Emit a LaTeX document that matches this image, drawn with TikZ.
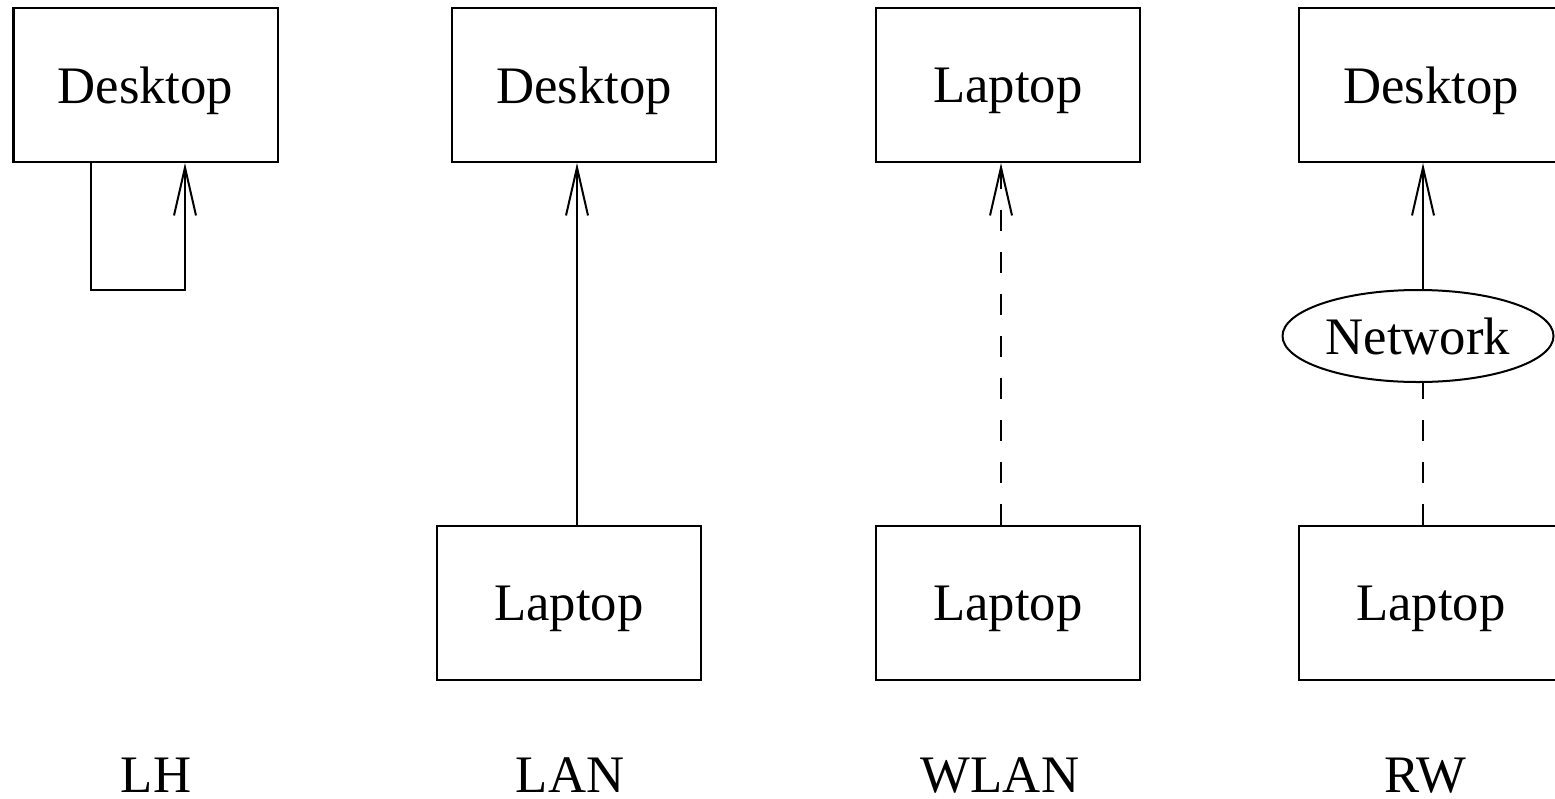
\documentclass[tikz,border=0pt]{standalone}
\usepackage{fontspec}
\setmainfont{Liberation Serif}
\usetikzlibrary{arrows.meta,shapes.geometric}

\begin{document}
\begin{tikzpicture}[font=\fontsize{30}{35}\selectfont, line width=1.14pt]
        % Style
        \tikzset{
            host/.style={draw, rectangle, inner sep=0pt, text depth=0pt, minimum width=5.28cm, minimum height=3.08cm},
            cloud/.style={draw, ellipse, inner sep=0pt, text depth=0pt, minimum width=5.42cm, minimum height=1.84cm},
            link/.style={-{Straight Barb[length=0.96cm, width=0.44cm]}},
            radio/.style={dash pattern=on 0.42cm off 0.42cm}
        }
        \useasboundingbox (0,0) rectangle (31.1,-15.96);

        % Komputery
        \node[host] (dtA) at (2.91, -1.70) {Desktop};
        \node[host] (dtB) at (11.68, -1.70) {Desktop};
        \node[host] (lpCt) at (20.16, -1.70) {Laptop};
        \node[host] (dtD) at (28.62, -1.70) {Desktop};

        \node[host] (lpB) at (11.38, -12.06) {Laptop};
        \node[host] (lpCb) at (20.16, -12.06) {Laptop};
        \node[host] (lpD) at (28.62, -12.06) {Laptop};

        \node[cloud] (net) at (28.36, -6.72) {Network};

        % Podpisy
        \foreach \x/\txt [count=\i] in {3.12/LH, 11.40/LAN, 20.00/WLAN, 28.50/RW}
            \node[anchor=base, inner sep=0pt] (cap\i) at (\x, -15.84) {\txt};

        % Polaczenia
        \draw[link] ([xshift=-1.09cm]dtA.south) -- ++(0,-2.54) -| ([xshift=0.79cm]dtA.south);
        \draw[link] ([xshift=0.16cm]lpB.north) -- ([xshift=0.16cm]lpB.north |- dtB.south);
        \draw[link, radio] ([xshift=-0.14cm]lpCb.north) -- ([xshift=-0.14cm]lpCb.north |- lpCt.south);
        \draw[radio] ([xshift=-0.16cm]lpD.north) -- ([xshift=-0.16cm]lpD.north |- net.south);
        \draw[link] ([xshift=-0.16cm]lpD.north |- net.north) -- ([xshift=-0.16cm]lpD.north |- dtD.south);
    \end{tikzpicture}
\end{document}
